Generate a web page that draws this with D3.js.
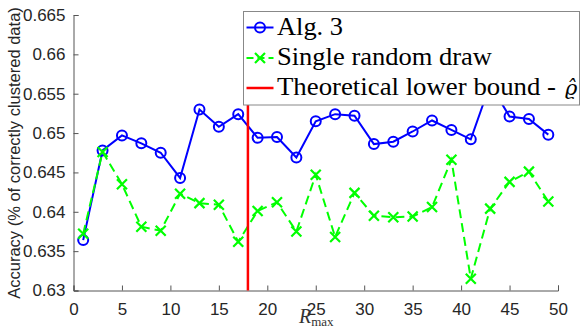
<!DOCTYPE html>
<html>
<head>
<meta charset="utf-8">
<script src="https://cdn.jsdelivr.net/npm/d3@7"></script>
<style>
  body { margin: 0; background: #fff; }
  svg { display: block; }
</style>
</head>
<body>
<svg id="chart" width="581" height="328"></svg>
<script>
// R_max values on the x axis
var rmax = [1, 3, 5, 7, 9, 11, 13, 15, 17, 19, 21, 23, 25, 27, 29, 31, 33, 35, 37, 39, 41, 43, 45, 47, 49];

// Alg. 3 accuracy
var alg3 = [0.6364, 0.6478, 0.6497, 0.6487, 0.6475, 0.6443, 0.6530, 0.6508, 0.6524,
            0.6494, 0.6495, 0.6469, 0.6515, 0.6524, 0.6522, 0.6486, 0.6489, 0.6502,
            0.6516, 0.6504, 0.6492, 0.6562, 0.6521, 0.6518, 0.6498];

// single random draw accuracy
var singleDraw = [0.6372, 0.6476, 0.6435, 0.6381, 0.6376, 0.6423, 0.6411, 0.6409, 0.6362,
                  0.6401, 0.6412, 0.6375, 0.6447, 0.6368, 0.6424, 0.6395, 0.6393, 0.6394,
                  0.6406, 0.6466, 0.6315, 0.6404, 0.6438, 0.6451, 0.6413];

// theoretical lower bound
var lowerBound = 18;

var xTicks = [0, 5, 10, 15, 20, 25, 30, 35, 40, 45, 50];
var yTicks = [0.63, 0.635, 0.64, 0.645, 0.65, 0.655, 0.66, 0.665];

var legendLabels = ["Alg. 3", "Single random draw", "Theoretical lower bound -"];

var svg = d3.select("#chart");

var x = d3.scaleLinear().domain([0, 50]).range([73.5, 558]);
var y = d3.scaleLinear().domain([0.63, 0.665]).range([290.5, 15]);

var axisColor = "#555";
var textColor = "#262626";

// axes
var xAxis = svg.append("g")
    .attr("transform", "translate(0,290.5)")
    .call(d3.axisBottom(x).tickValues(xTicks).tickSize(-5).tickPadding(12).tickFormat(d3.format("d")));
var yAxis = svg.append("g")
    .attr("transform", "translate(73.5,0)")
    .call(d3.axisLeft(y).tickValues(yTicks).tickSize(-5).tickPadding(8).tickFormat(function(d) { return String(+d.toFixed(3)); }));

[xAxis, yAxis].forEach(function(a) {
    a.select(".domain").attr("stroke", axisColor);
    a.selectAll(".tick line").attr("stroke", axisColor);
    a.selectAll(".tick text")
        .attr("fill", textColor)
        .attr("font-family", "Liberation Sans, Arial, sans-serif")
        .attr("font-size", 17);
});

// y label
svg.append("text")
    .attr("transform", "translate(20,153) rotate(-90)")
    .attr("text-anchor", "middle")
    .attr("font-family", "Liberation Sans, Arial, sans-serif")
    .attr("font-size", 16.5)
    .attr("fill", textColor)
    .text("Accuracy (% of correctly clustered data)");

// x label
var xl = svg.append("text")
    .attr("x", 299)
    .attr("y", 323)
    .attr("font-family", "Liberation Serif, serif")
    .attr("fill", "#333");
xl.append("tspan").attr("font-style", "italic").attr("font-size", 20).text("R");
xl.append("tspan").attr("font-size", 13).attr("dy", 2.5).text("max");

var line = d3.line()
    .x(function(d) { return x(d[0]); })
    .y(function(d) { return y(d[1]); });

var blueData = rmax.map(function(r, i) { return [r, alg3[i]]; });
var greenData = rmax.map(function(r, i) { return [r, singleDraw[i]]; });

// Alg. 3
svg.append("path")
    .datum(blueData)
    .attr("d", line)
    .attr("fill", "none")
    .attr("stroke", "#0000ff")
    .attr("stroke-width", 2);

svg.selectAll(".circ")
    .data(blueData)
    .enter()
    .append("circle")
    .attr("cx", function(d) { return x(d[0]); })
    .attr("cy", function(d) { return y(d[1]); })
    .attr("r", 5)
    .attr("fill", "none")
    .attr("stroke", "#0000ff")
    .attr("stroke-width", 2);

// single random draw
svg.append("path")
    .datum(greenData)
    .attr("d", line)
    .attr("fill", "none")
    .attr("stroke", "#00ff00")
    .attr("stroke-width", 2)
    .attr("stroke-dasharray", "9,5");

function cross(g, cx, cy, s) {
    g.append("path")
        .attr("d", "M" + (cx - s) + "," + (cy - s) + "L" + (cx + s) + "," + (cy + s) +
                   "M" + (cx - s) + "," + (cy + s) + "L" + (cx + s) + "," + (cy - s))
        .attr("stroke", "#00ff00")
        .attr("stroke-width", 2.2)
        .attr("fill", "none");
}
var crosses = svg.append("g");
greenData.forEach(function(d) { cross(crosses, x(d[0]), y(d[1]), 5); });

// lower bound
svg.append("line")
    .attr("x1", x(lowerBound)).attr("x2", x(lowerBound))
    .attr("y1", y(0.63)).attr("y2", y(0.665))
    .attr("stroke", "#ff0000")
    .attr("stroke-width", 2.5);

// legend
var leg = svg.append("g");
leg.append("rect")
    .attr("x", 243.5).attr("y", 11.5)
    .attr("width", 336).attr("height", 93.5)
    .attr("fill", "#fff")
    .attr("stroke", "#888")
    .attr("stroke-width", 1);

var rowY = [27.5, 58, 88];
var labelWidths = [66, 215, 279];
var sx1 = 246.5, sx2 = 273.5, sxm = 260;

leg.append("line").attr("x1", sx1).attr("x2", sx2).attr("y1", rowY[0]).attr("y2", rowY[0])
    .attr("stroke", "#0000ff").attr("stroke-width", 2);
leg.append("circle").attr("cx", sxm).attr("cy", rowY[0]).attr("r", 5)
    .attr("fill", "none").attr("stroke", "#0000ff").attr("stroke-width", 2);

leg.append("line").attr("x1", sx1).attr("x2", sx2).attr("y1", rowY[1]).attr("y2", rowY[1])
    .attr("stroke", "#00ff00").attr("stroke-width", 2).attr("stroke-dasharray", "7,4");
cross(leg, sxm, rowY[1], 5);

leg.append("line").attr("x1", sx1).attr("x2", sx2).attr("y1", rowY[2]).attr("y2", rowY[2])
    .attr("stroke", "#ff0000").attr("stroke-width", 2.5);

legendLabels.forEach(function(t, i) {
    leg.append("text")
        .attr("x", 277)
        .attr("y", rowY[i] + 7)
        .attr("font-family", "Liberation Serif, serif")
        .attr("font-size", 25)
        .attr("fill", "#000")
        .attr("textLength", labelWidths[i])
        .attr("lengthAdjust", "spacingAndGlyphs")
        .text(t);
});
leg.append("text")
    .attr("x", 565)
    .attr("y", rowY[2] + 7)
    .attr("font-family", "DejaVu Serif, serif")
    .attr("font-style", "italic")
    .attr("font-size", 21)
    .attr("fill", "#000")
    .text("\u03F1\u0302");
</script>
</body>
</html>
